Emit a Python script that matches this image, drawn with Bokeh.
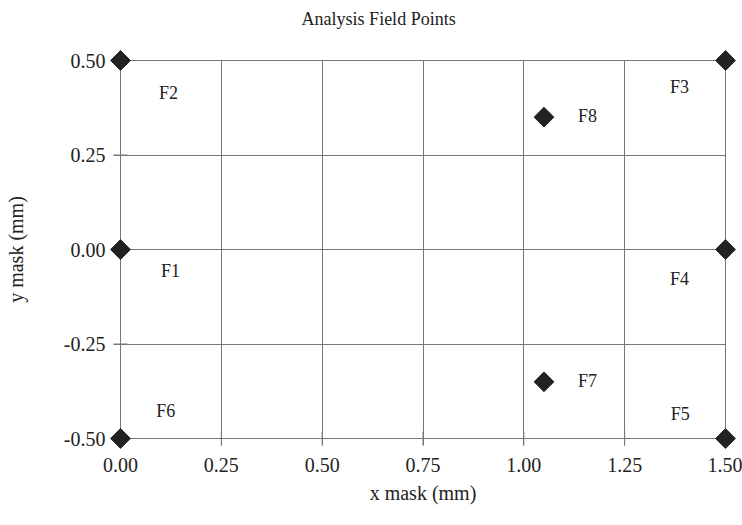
import math
from bokeh.plotting import figure
from bokeh.models import ColumnDataSource, FixedTicker, LabelSet, Range1d, CustomJSTickFormatter
from bokeh.core.properties import value
from bokeh.embed import file_html
from bokeh.resources import INLINE

# Data
names = ["F1", "F2", "F3", "F4", "F5", "F6", "F7", "F8"]
x_mask = [0.00, 0.00, 1.50, 1.50, 1.50, 0.00, 1.05, 1.05]
y_mask = [0.00, 0.50, 0.50, 0.00, -0.50, -0.50, -0.35, 0.35]
label_x = [0.124, 0.119, 1.386, 1.386, 1.388, 0.112, 1.158, 1.158]
label_y = [-0.058, 0.415, 0.429, -0.077, -0.434, -0.426, -0.349, 0.352]
x_ticks = [0.0, 0.25, 0.5, 0.75, 1.0, 1.25, 1.5]
y_ticks = [-0.5, -0.25, 0.0, 0.25, 0.5]
title_text = "Analysis Field Points"

FONT = "Liberation Serif"
TXT = "#222222"
GRID = "#777777"
X0, X1, Y0, Y1 = 0.0, 1.5, -0.5, 0.5
TICK = 7

p = figure(width=742, height=525, output_backend="svg", toolbar_location=None,
           x_range=Range1d(X0, X1), y_range=Range1d(Y0, Y1),
           min_border_left=120, min_border_right=17, min_border_top=60,
           min_border_bottom=87)
p.outline_line_color = GRID
p.outline_line_width = 1
p.background_fill_color = "white"
p.border_fill_color = "white"

for ax in (p.xaxis[0], p.yaxis[0]):
    ax.axis_line_color = None
    ax.major_tick_line_color = GRID
    ax.major_tick_out = TICK
    ax.major_tick_in = 0
    ax.minor_tick_line_color = None
    ax.major_label_text_font = FONT
    ax.major_label_text_font_size = "20px"
    ax.major_label_text_color = TXT
    ax.axis_label_text_font = FONT
    ax.axis_label_text_font_size = "20px"
    ax.axis_label_text_font_style = "normal"
    ax.axis_label_text_color = TXT

p.xaxis.ticker = FixedTicker(ticks=x_ticks, minor_ticks=[])
p.yaxis.ticker = FixedTicker(ticks=y_ticks, minor_ticks=[])
fmt = CustomJSTickFormatter(code="return tick.toFixed(2);")
p.xaxis.formatter = fmt
p.yaxis.formatter = fmt
p.xaxis.axis_label = "x mask (mm)"
p.yaxis.axis_label = "y mask (mm)"
p.xaxis.major_label_standoff = 12
p.yaxis.major_label_standoff = 8
p.xaxis.axis_label_standoff = 7
p.yaxis.axis_label_standoff = 34

p.xgrid.grid_line_color = GRID
p.ygrid.grid_line_color = GRID

# outward tick marks drawn as "dash" markers centred on the frame edge;
# the inner half lies on the grid line, the outer half sticks out
xt = p.scatter(x=x_ticks, y=[Y0] * len(x_ticks), marker="dash", size=2 * TICK,
               angle=math.pi / 2, line_color=GRID, line_width=1)
yt = p.scatter(x=[X0] * len(y_ticks), y=y_ticks, marker="dash", size=2 * TICK,
               line_color=GRID, line_width=1)
xt.level = "overlay"
yt.level = "overlay"

src = ColumnDataSource(dict(x=x_mask, y=y_mask))
r = p.scatter("x", "y", source=src, marker="square", size=14, angle=math.pi / 4,
              fill_color="#222222", line_color="#222222")
r.level = "overlay"

lsrc = ColumnDataSource(dict(x=label_x, y=label_y, t=names))
labels = LabelSet(x="x", y="y", text="t", source=lsrc, text_align="center",
                  text_baseline="middle", text_font=FONT, text_font_size="18px",
                  text_color=TXT)
p.add_layout(labels)

tr = p.text(x=[0.64], y=[Y1], text=[title_text], y_offset=-42,
            text_align="center", text_baseline="middle",
            text_font=value(FONT), text_font_size="18px", text_color=TXT)
tr.level = "overlay"

open("out.html", "w").write(file_html(p, INLINE))
